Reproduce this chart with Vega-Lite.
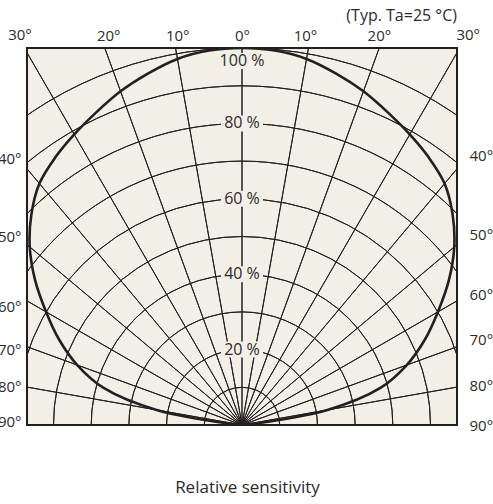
{
  "$schema": "https://vega.github.io/schema/vega-lite/v6.json",
  "width": 430,
  "height": 377,
  "autosize": {"type": "none"},
  "padding": {"left": 27, "top": 48, "right": 36, "bottom": 79},
  "background": "white",
  "config": {
    "font": "Open Sans",
    "view": {"stroke": "#231f20", "strokeWidth": 2, "fill": "#f2efe7"}
  },
  "title": {
    "text": "(Typ. Ta=25 °C)",
    "anchor": "end",
    "frame": "group",
    "fontSize": 16,
    "fontWeight": "normal",
    "color": "#2b2b2b",
    "offset": 4
  },
  "datasets": {
    "curve": [
      {"angle": -90, "r": 0},
      {"angle": -85, "r": 0.02},
      {"angle": -80, "r": 0.23},
      {"angle": -75, "r": 0.38},
      {"angle": -70, "r": 0.465},
      {"angle": -65, "r": 0.535},
      {"angle": -60, "r": 0.6},
      {"angle": -55, "r": 0.67},
      {"angle": -50, "r": 0.735},
      {"angle": -45, "r": 0.79},
      {"angle": -40, "r": 0.836},
      {"angle": -35, "r": 0.865},
      {"angle": -30, "r": 0.89},
      {"angle": -25, "r": 0.915},
      {"angle": -20, "r": 0.942},
      {"angle": -15, "r": 0.965},
      {"angle": -10, "r": 0.986},
      {"angle": -5, "r": 0.997},
      {"angle": 0, "r": 1.0},
      {"angle": 5, "r": 0.997},
      {"angle": 10, "r": 0.986},
      {"angle": 15, "r": 0.965},
      {"angle": 20, "r": 0.942},
      {"angle": 25, "r": 0.915},
      {"angle": 30, "r": 0.89},
      {"angle": 35, "r": 0.865},
      {"angle": 40, "r": 0.836},
      {"angle": 45, "r": 0.79},
      {"angle": 50, "r": 0.735},
      {"angle": 55, "r": 0.67},
      {"angle": 60, "r": 0.6},
      {"angle": 65, "r": 0.535},
      {"angle": 70, "r": 0.465},
      {"angle": 75, "r": 0.38},
      {"angle": 80, "r": 0.23},
      {"angle": 85, "r": 0.02},
      {"angle": 90, "r": 0}
    ],
    "rings": [
      {"r": 0.1}, {"r": 0.2}, {"r": 0.3}, {"r": 0.4}, {"r": 0.5},
      {"r": 0.6}, {"r": 0.7}, {"r": 0.8}, {"r": 0.9}, {"r": 1.0}
    ],
    "spokes": [
      {"angle": -90}, {"angle": -80}, {"angle": -70}, {"angle": -60}, {"angle": -50},
      {"angle": -40}, {"angle": -30}, {"angle": -20}, {"angle": -10}, {"angle": 0},
      {"angle": 10}, {"angle": 20}, {"angle": 30}, {"angle": 40}, {"angle": 50},
      {"angle": 60}, {"angle": 70}, {"angle": 80}, {"angle": 90}
    ],
    "pcts": [
      {"label": "20 %", "r": 0.2},
      {"label": "40 %", "r": 0.4},
      {"label": "60 %", "r": 0.6},
      {"label": "80 %", "r": 0.8}
    ],
    "top": [
      {"label": "100 %", "r": 1.0}
    ],
    "corner": [
      {"label": "30°"}
    ]
  },
  "layer": [
    {
      "data": {"name": "rings"},
      "mark": {"type": "arc", "filled": false, "stroke": "#231f20", "strokeWidth": 1, "clip": true},
      "encoding": {
        "x": {"datum": 0, "type": "quantitative", "scale": {"domain": [-0.5703, 0.5703], "nice": false, "zero": false}, "axis": null},
        "y": {"datum": 0, "type": "quantitative", "scale": {"domain": [0, 1], "nice": false}, "axis": null},
        "theta": {"datum": -90, "type": "quantitative", "scale": {"domain": [-90, 90], "range": [-1.5707963, 1.5707963]}},
        "theta2": {"datum": 90},
        "radius": {"field": "r", "type": "quantitative", "scale": {"type": "linear", "domain": [0, 1], "range": [0, 377], "zero": true}},
        "radius2": {"field": "r"}
      }
    },
    {
      "data": {"name": "spokes"},
      "mark": {"type": "arc", "filled": false, "stroke": "#231f20", "strokeWidth": 1, "clip": true},
      "encoding": {
        "x": {
          "datum": 0, "type": "quantitative",
          "scale": {"domain": [-0.5703, 0.5703], "nice": false, "zero": false},
          "axis": {"orient": "bottom", "labels": false, "ticks": false, "domain": false, "grid": false,
                   "title": "Relative sensitivity", "titleFontSize": 17, "titleFontWeight": "normal",
                   "titleColor": "#2b2b2b", "titlePadding": 54, "titleX": 220}
        },
        "y": {
          "datum": 0, "type": "quantitative",
          "scale": {"domain": [0, 1], "nice": false},
          "axis": {"orient": "right", "values": [0.0, 0.106, 0.2255, 0.345, 0.504, 0.716],
                   "labelExpr": "datum.value < 0.05 ? '90°' : datum.value < 0.15 ? '80°' : datum.value < 0.28 ? '70°' : datum.value < 0.42 ? '60°' : datum.value < 0.6 ? '50°' : '40°'",
                   "domain": false, "ticks": false, "grid": false, "title": null, "labelPadding": 12,
                   "labelFontSize": 15, "labelColor": "#2b2b2b", "labelFlush": false, "labelOverlap": false, "labelBound": false}
        },
        "theta": {"field": "angle", "type": "quantitative", "stack": null, "scale": {"domain": [-90, 90], "range": [-1.5707963, 1.5707963]}},
        "theta2": {"field": "angle"},
        "radius": {"datum": 2, "type": "quantitative", "scale": {"type": "linear", "domain": [0, 1], "range": [0, 377], "zero": true}},
        "radius2": {"datum": 0}
      }
    },
    {
      "data": {"name": "pcts"},
      "mark": {"type": "rect", "width": 42, "height": 16, "fill": "#f2efe7"},
      "encoding": {
        "x": {"datum": 0, "type": "quantitative", "scale": {"domain": [-0.5703, 0.5703], "nice": false, "zero": false}, "axis": null},
        "y": {"field": "r", "type": "quantitative", "scale": {"domain": [0, 1], "nice": false}, "axis": null}
      }
    },
    {
      "data": {"name": "pcts"},
      "mark": {"type": "text", "fontSize": 16, "fill": "#2b2b2b"},
      "encoding": {
        "x": {"datum": 0, "type": "quantitative", "scale": {"domain": [-0.5703, 0.5703], "nice": false, "zero": false}, "axis": null},
        "y": {"field": "r", "type": "quantitative", "scale": {"domain": [0, 1], "nice": false}, "axis": null},
        "text": {"field": "label"}
      }
    },
    {
      "data": {"name": "top"},
      "mark": {"type": "rect", "width": 50, "height": 16, "yOffset": 13, "fill": "#f2efe7"},
      "encoding": {
        "x": {"datum": 0, "type": "quantitative", "scale": {"domain": [-0.5703, 0.5703], "nice": false, "zero": false}, "axis": null},
        "y": {"field": "r", "type": "quantitative", "scale": {"domain": [0, 1], "nice": false}, "axis": null}
      }
    },
    {
      "data": {"name": "top"},
      "mark": {"type": "text", "fontSize": 16, "dy": 13, "fill": "#2b2b2b"},
      "encoding": {
        "x": {"datum": 0, "type": "quantitative", "scale": {"domain": [-0.5703, 0.5703], "nice": false, "zero": false}, "axis": null},
        "y": {"field": "r", "type": "quantitative", "scale": {"domain": [0, 1], "nice": false}, "axis": null},
        "text": {"field": "label"}
      }
    },
    {
      "data": {"name": "corner"},
      "mark": {"type": "text", "fontSize": 15, "fill": "#2b2b2b", "baseline": "bottom", "dy": -5},
      "encoding": {
        "x": {"datum": -0.589, "type": "quantitative", "scale": {"domain": [-0.5703, 0.5703], "nice": false, "zero": false}, "axis": null},
        "y": {"datum": 1, "type": "quantitative", "scale": {"domain": [0, 1], "nice": false}, "axis": null},
        "text": {"field": "label"}
      }
    },
    {
      "data": {"name": "corner"},
      "mark": {"type": "text", "fontSize": 15, "fill": "#2b2b2b", "baseline": "bottom", "dy": -5},
      "encoding": {
        "x": {"datum": 0.6, "type": "quantitative", "scale": {"domain": [-0.5703, 0.5703], "nice": false, "zero": false}, "axis": null},
        "y": {"datum": 1, "type": "quantitative", "scale": {"domain": [0, 1], "nice": false}, "axis": null},
        "text": {"field": "label"}
      }
    },
    {
      "data": {"name": "curve"},
      "transform": [
        {"calculate": "datum.r * sin(datum.angle * PI / 180)", "as": "x"},
        {"calculate": "datum.r * cos(datum.angle * PI / 180)", "as": "y"}
      ],
      "mark": {"type": "line", "stroke": "#231f20", "strokeWidth": 2.6, "interpolate": "catmull-rom", "clip": true},
      "encoding": {
        "x": {
          "field": "x", "type": "quantitative",
          "scale": {"domain": [-0.5703, 0.5703], "nice": false, "zero": false},
          "axis": {"orient": "top", "values": [-0.355, -0.172, 0, 0.167, 0.363],
                   "labelExpr": "round(atan(abs(datum.value)) * 18 / PI) * 10 + '°'",
                   "domain": false, "ticks": false, "grid": false, "title": null, "labelPadding": 5,
                   "labelFontSize": 15, "labelColor": "#2b2b2b", "labelFlush": false, "labelOverlap": false, "labelBound": false}
        },
        "y": {
          "field": "y", "type": "quantitative",
          "scale": {"domain": [0, 1], "nice": false},
          "axis": {"orient": "left", "values": [0.008, 0.1008, 0.199, 0.313, 0.4987, 0.7056],
                   "labelExpr": "datum.value < 0.05 ? '90°' : datum.value < 0.15 ? '80°' : datum.value < 0.26 ? '70°' : datum.value < 0.4 ? '60°' : datum.value < 0.6 ? '50°' : '40°'",
                   "domain": false, "ticks": false, "grid": false, "title": null, "labelPadding": 6,
                   "labelFontSize": 15, "labelColor": "#2b2b2b", "labelFlush": false, "labelOverlap": false, "labelBound": false}
        },
        "order": {"field": "angle", "type": "quantitative"}
      }
    }
  ],
  "resolve": {"axis": {"x": "independent", "y": "independent"}}
}
